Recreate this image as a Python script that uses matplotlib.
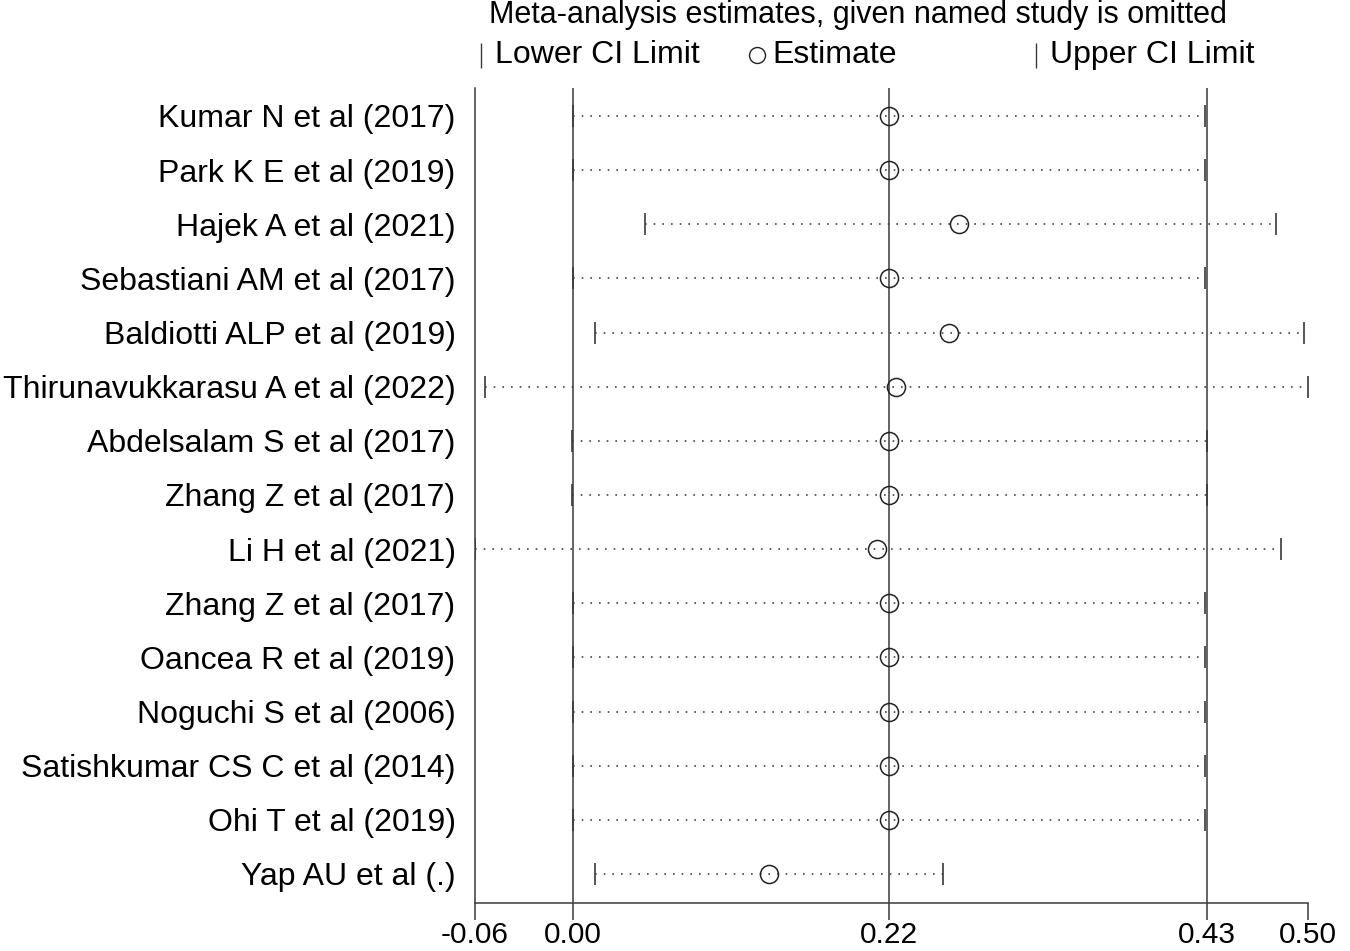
import matplotlib
matplotlib.use("Agg")
import matplotlib.pyplot as plt
from matplotlib.lines import Line2D

plt.rcParams['font.family'] = ['Liberation Sans', 'DejaVu Sans']

# Studies (top to bottom) and the pooled estimate when each one is omitted
studies = ["Kumar N et al (2017)", "Park K E et al (2019)", "Hajek A et al (2021)",
           "Sebastiani AM et al (2017)", "Baldiotti ALP et al (2019)",
           "Thirunavukkarasu A et al (2022)", "Abdelsalam S et al (2017)",
           "Zhang Z et al (2017)", "Li H et al (2021)", "Zhang Z et al (2017)",
           "Oancea R et al (2019)", "Noguchi S et al (2006)",
           "Satishkumar CS C et al (2014)", "Ohi T et al (2019)", "Yap AU et al (.)"]
estimate = [0.2163, 0.2163, 0.2637, 0.2163, 0.2569, 0.2208, 0.2163, 0.2163,
            0.2082, 0.2163, 0.2163, 0.2163, 0.2163, 0.2163, 0.1351]
lower = [0.0025, 0.0025, 0.0510, 0.0025, 0.0172, -0.0574, 0.0015, 0.0015,
         -0.0640, 0.0025, 0.0025, 0.0025, 0.0025, 0.0025, 0.0172]
upper = [0.4300, 0.4300, 0.4777, 0.4300, 0.4968, 0.4997, 0.4315, 0.4315,
         0.4811, 0.4300, 0.4300, 0.4300, 0.4300, 0.4300, 0.2528]

# overall estimate and CI (vertical lines)
overall = [0.0020, 0.2163, 0.4310]
x_min, x_max = -0.0640, 0.4997
tick_pos = [x_min] + overall + [x_max]
tick_labels = ["-0.06", "0.00", "0.22", "0.43", "0.50"]

line_col = '#3a3a3a'
FS = 23

fig = plt.figure(figsize=(13.5, 9.51), dpi=100)
ax = fig.add_axes([0.35185, 0.05079, 0.61726, 0.85668])

rows = list(range(1, len(studies) + 1))

for v in overall:
    ax.axvline(v, color=line_col, lw=1.1, zorder=1)

for y, lo, hi, est in zip(rows, lower, upper, estimate):
    ax.plot([lo, hi], [y, y], color='#444444', lw=1.2, dashes=(1, 4.2), zorder=2)
    ax.plot([lo, hi], [y, y], ls='none', marker='|', ms=16.5, mew=1.2, color=line_col, zorder=3)
    ax.plot(est, y, ls='none', marker='o', ms=13, mfc='none', mec='#222222', mew=1.1, zorder=4)

ax.set_xlim(x_min, x_max)
ax.set_ylim(15.531, 0.483)
ax.set_xticks(tick_pos)
ax.set_xticklabels(tick_labels, fontsize=21.5)
ax.set_yticks(rows)
ax.set_yticklabels(studies, fontsize=FS)
ax.tick_params(axis='y', length=0, pad=14)
ax.tick_params(axis='x', length=12, width=1.1, color=line_col, pad=1)

for s in ['top', 'right']:
    ax.spines[s].set_visible(False)
for s in ['left', 'bottom']:
    ax.spines[s].set_color(line_col)
    ax.spines[s].set_linewidth(1.1)

# header and legend
fig.text(858 / 1350, 1 - 15 / 951, "Meta-analysis estimates, given named study is omitted",
         ha='center', va='center', fontsize=22)
ly = 1 - 55 / 951
fig.add_artist(Line2D([481 / 1350], [ly], transform=fig.transFigure, marker='|', ls='none',
                      ms=18, mew=1.0, color=line_col))
fig.text(495 / 1350, ly, "Lower CI Limit", ha='left', va='center', fontsize=FS)
fig.add_artist(Line2D([757 / 1350], [ly], transform=fig.transFigure, marker='o', ls='none',
                      ms=11.5, mfc='none', mew=1.0, mec='#222222'))
fig.text(772 / 1350, ly, "Estimate", ha='left', va='center', fontsize=FS)
fig.add_artist(Line2D([1036 / 1350], [ly], transform=fig.transFigure, marker='|', ls='none',
                      ms=18, mew=1.0, color=line_col))
fig.text(1050 / 1350, ly, "Upper CI Limit", ha='left', va='center', fontsize=FS)

fig.savefig("out.png", dpi=100)
